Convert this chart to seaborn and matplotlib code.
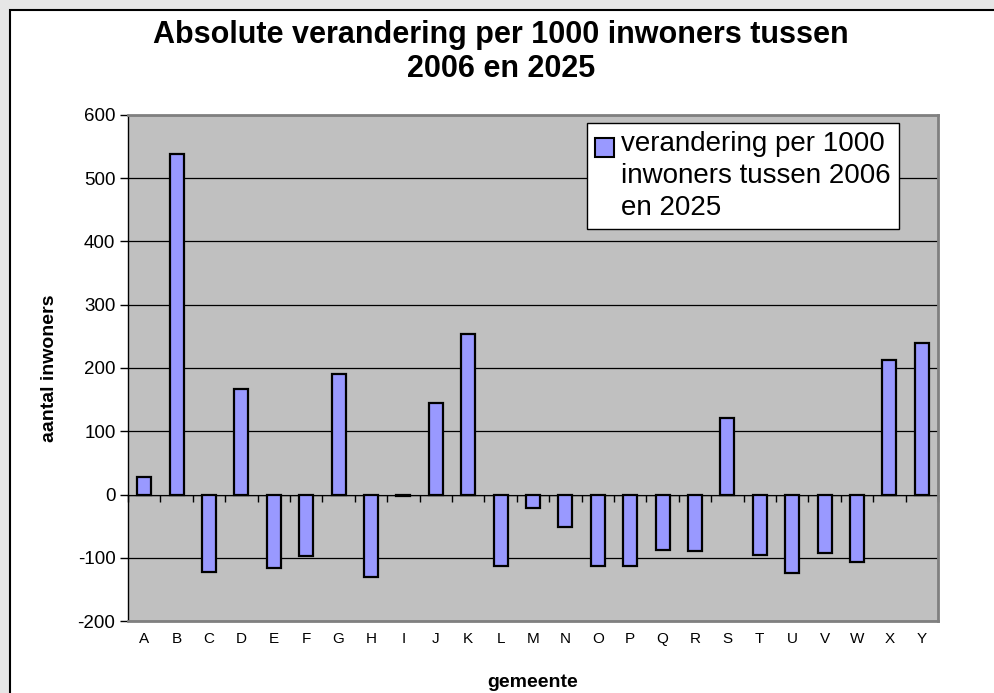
import numpy as np
import pandas as pd
import seaborn as sns
import matplotlib.pyplot as plt
from matplotlib.patches import Patch, Rectangle
from matplotlib.legend_handler import HandlerPatch

# data
gemeenten = list("ABCDEFGHIJKLMNOPQRSTUVWXY")
verandering = [27, 538, -122, 167, -116, -98, 191, -131, -2, 145, 253, -113,
               -22, -51, -113, -113, -88, -90, 121, -95, -124, -93, -107, 212, 239]
y_ticks = [-200, -100, 0, 100, 200, 300, 400, 500, 600]

title = "Absolute verandering per 1000 inwoners tussen\n2006 en 2025"
legend_label = "verandering per 1000\ninwoners tussen 2006\nen 2025"


class TopSquareHandler(HandlerPatch):
    """Draws the legend key as a small square aligned with the first text line."""

    def create_artists(self, legend, orig_handle, xdescent, ydescent,
                       width, height, fontsize, trans):
        size = 0.68 * fontsize
        rect = Rectangle((-xdescent, -ydescent + height - size + 0.15 * fontsize),
                         size, size, facecolor=orig_handle.get_facecolor(),
                         edgecolor="black", linewidth=1.5, transform=trans)
        return [rect]


sns.set_style("white")
plt.rcParams['font.family'] = ['Liberation Sans', 'DejaVu Sans']
plt.rcParams['text.color'] = 'black'
plt.rcParams['axes.labelcolor'] = 'black'
plt.rcParams['xtick.color'] = 'black'
plt.rcParams['ytick.color'] = 'black'

df = pd.DataFrame({"gemeente": gemeenten, "verandering": verandering})

fig = plt.figure(figsize=(9.94, 6.93), dpi=100)
fig.patch.set_facecolor("#e6e6e6")
# white chart area with black border (only top/left edge visible)
fig.add_artist(Rectangle((10 / 994, -0.1), 1.2, 1 - 10 / 693 + 0.1,
                         transform=fig.transFigure, facecolor="white",
                         edgecolor="black", linewidth=1.5, zorder=-5))

ax = fig.add_axes([128 / 994, 1 - 621 / 693, 810 / 994, 506 / 693])
ax.set_zorder(1)
ax.set_facecolor("#c0c0c0")

sns.barplot(data=df, x="gemeente", y="verandering", color="#9999ff",
            saturation=1, edgecolor="black", linewidth=1.6, width=0.43, ax=ax,
            zorder=3)

ax.set_ylim(-200, 600)
ax.set_xlim(-0.5, len(gemeenten) - 0.5)
ax.set_yticks(y_ticks)
ax.set_yticklabels([str(t) for t in y_ticks], fontsize=13.5)
ax.yaxis.grid(True, color="black", linewidth=0.9)
ax.set_axisbelow(True)
for s in ax.spines.values():
    s.set_color("#808080")
    s.set_linewidth(2)
ax.spines['left'].set_color("black")
ax.spines['left'].set_linewidth(1)
ax.tick_params(axis="y", length=6, width=1, color="black", left=True, pad=3)
ax.tick_params(axis="x", length=0, labelsize=11, pad=8)

# category axis crossing at zero with ticks between categories
zero_ax = ax.secondary_xaxis(0.25)
zero_ax.set_xticks(np.arange(len(gemeenten) + 1) - 0.5)
zero_ax.set_xticklabels([])
zero_ax.tick_params(axis="x", direction="out", length=5, width=1, color="black")
zero_ax.spines['bottom'].set_color("black")
zero_ax.spines['bottom'].set_linewidth(1)

ax.set_xlabel("gemeente", fontsize=14, fontweight="bold", labelpad=20)
ax.set_ylabel("aantal inwoners", fontsize=14, fontweight="bold", labelpad=14)

fig.text(501 / 994, 1 - 52 / 693, title, ha="center", va="center",
         fontsize=22, fontweight="bold", linespacing=1.18)

handle = Patch(facecolor="#9999ff", edgecolor="black")
leg = ax.legend([handle], [legend_label], loc="upper right",
                bbox_to_anchor=(899 / 994, 1 - 123 / 693),
                bbox_transform=fig.transFigure, fontsize=20, frameon=True,
                fancybox=False, edgecolor="black", framealpha=1,
                handler_map={Patch: TopSquareHandler()},
                handlelength=0.72, handleheight=3.6, handletextpad=0.2,
                borderpad=0.3, borderaxespad=0)
leg.get_frame().set_linewidth(1)
leg.set_zorder(5)
for t in leg.get_texts():
    t.set_linespacing(1.28)

fig.savefig("out.png", dpi=100, facecolor=fig.get_facecolor())
